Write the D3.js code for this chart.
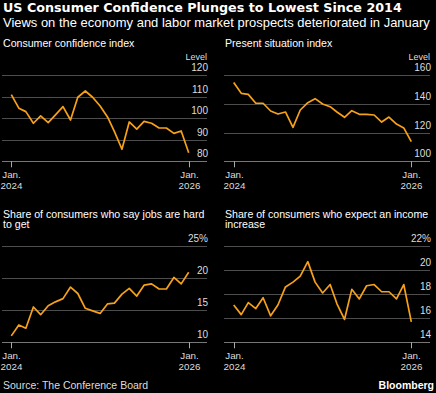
<!DOCTYPE html>
<html>
<head>
<meta charset="utf-8">
<script src="https://cdn.jsdelivr.net/npm/d3@7"></script>
<style>
  body { margin: 0; background: #000; }
  svg { display: block; background: #000; }
</style>
</head>
<body>
<div id="chart"></div>
<script>
var width = 436
var height = 393

// Monthly, Jan 2024 .. Jan 2026
var months = d3.range(25).map(function (i) { return new Date(2024, i, 1) })

var confidence = [111.0, 104.7, 103.1, 97.7, 101.1, 98.0, 101.6, 105.4, 99.2, 109.8, 112.7, 109.8,
  105.7, 100.5, 93.8, 85.6, 98.3, 95.0, 98.6, 97.7, 95.5, 95.5, 93.0, 94.1, 84.0]
var presentSituation = [154.9, 147.4, 146.7, 140.5, 140.5, 135.1, 133.0, 134.4, 123.7, 135.8, 140.9, 143.7,
  140.0, 138.1, 134.4, 130.7, 135.3, 132.8, 132.8, 132.3, 127.4, 130.9, 126.0, 123.3, 113.7]
var jobsHard = [11.0, 12.7, 12.2, 15.5, 14.3, 15.7, 16.3, 16.8, 18.6, 17.6, 15.3, 14.9,
  14.5, 16.0, 16.1, 17.5, 18.4, 17.2, 18.9, 19.1, 18.3, 18.3, 20.1, 19.1, 20.9]
var incomeUp = [17.1, 16.3, 17.3, 16.8, 17.7, 16.2, 17.1, 18.6, 19.0, 19.5, 20.7, 19.0,
  18.1, 18.8, 17.2, 15.9, 18.4, 17.6, 18.7, 18.8, 18.2, 18.2, 17.6, 18.8, 15.7]

var orange = "#f7a11a"
var font = "'Liberation Sans', Arial, sans-serif"

var svg = d3.select("#chart")
    .append("svg")
    .attr("width", width)
    .attr("height", height)

// shrink a text's font until it fits the wanted width
function fit(sel, family, weight, size, maxW) {
    sel.style("font", weight + " " + size + "px " + family)
    var w = sel.node().getComputedTextLength()
    if (w > maxW) sel.style("font", weight + " " + (size * maxW / w).toFixed(2) + "px " + family)
}

// Header
var title = svg.append("text")
    .attr("x", 3).attr("y", 12)
    .attr("fill", "#fff")
    .text("US Consumer Confidence Plunges to Lowest Since 2014")
fit(title, "'DejaVu Sans', sans-serif", "bold", 15, 399)

var sub = svg.append("text")
    .attr("x", 3).attr("y", 26.5)
    .attr("fill", "#fff")
    .text("Views on the economy and labor market prospects deteriorated in January")
fit(sub, font, "normal", 13, 427)

function drawPanel(o) {
    var g = svg.append("g")

    var x = d3.scaleTime()
        .domain([months[0], months[months.length - 1]])
        .range([o.x0, o.x1])
    var y = d3.scaleLinear()
        .domain(o.domain)
        .range([o.yb, o.yt])

    // title (one or two lines)
    o.title.forEach(function (t, i) {
        g.append("text")
            .attr("x", o.left + 1).attr("y", o.titleY + i * 10.5)
            .attr("fill", "#fff")
            .style("font", "10.6px " + font)
            .text(t)
    })

    // gridlines + labels
    var ticks = d3.range(o.domain[0], o.domain[1] + 0.001, o.step)
    ticks.forEach(function (t, i) {
        g.append("line")
            .attr("x1", o.left).attr("x2", o.right)
            .attr("y1", Math.round(y(t)) + 0.5).attr("y2", Math.round(y(t)) + 0.5)
            .attr("stroke", i == 0 ? "#777" : "#4d4d4d")
            .attr("stroke-width", 1)
        g.append("text")
            .attr("x", o.right + 1).attr("y", y(t) - 4)
            .attr("text-anchor", "end")
            .attr("fill", "#ddd")
            .style("font", "10px " + font)
            .text(t + (i == ticks.length - 1 ? o.topSuffix : ""))
    })
    if (o.unit) {
        g.append("text")
            .attr("x", o.right).attr("y", y(o.domain[1]) - 15.5)
            .attr("text-anchor", "end")
            .attr("fill", "#ddd")
            .style("font", "9px " + font)
            .text(o.unit)
    }

    // x ticks
    ;[months[0], months[months.length - 1]].forEach(function (d) {
        var xx = Math.round(x(d)) + 0.5
        g.append("line")
            .attr("x1", xx).attr("x2", xx)
            .attr("y1", o.yb).attr("y2", o.yb + 6)
            .attr("stroke", "#aaa")
        g.append("text")
            .attr("x", xx).attr("y", o.yb + 17)
            .attr("text-anchor", "middle")
            .attr("fill", "#ddd")
            .style("font", "9.8px " + font)
            .text("Jan.")
        g.append("text")
            .attr("x", xx).attr("y", o.yb + 27.5)
            .attr("text-anchor", "middle")
            .attr("fill", "#ddd")
            .style("font", "9.8px " + font)
            .text(d.getFullYear())
    })

    var line = d3.line()
        .x(function (d, i) { return x(months[i]) })
        .y(function (d) { return y(d) })

    g.append("path")
        .datum(o.values)
        .attr("fill", "none")
        .attr("stroke", orange)
        .attr("stroke-width", 1.7)
        .attr("stroke-linejoin", "round")
        .attr("d", line)
}

drawPanel({ title: ["Consumer confidence index"], titleY: 47, values: confidence,
    domain: [80, 120], step: 10, unit: "Level", topSuffix: "",
    left: 2, right: 207, x0: 11.3, x1: 188.7, yb: 161.3, yt: 75.3 })

drawPanel({ title: ["Present situation index"], titleY: 47, values: presentSituation,
    domain: [100, 160], step: 20, unit: "Level", topSuffix: "",
    left: 224, right: 430, x0: 233.7, x1: 411.3, yb: 161.3, yt: 75.3 })

drawPanel({ title: ["Share of consumers who say jobs are hard", "to get"], titleY: 217.5, values: jobsHard,
    domain: [10, 25], step: 5, unit: null, topSuffix: "%",
    left: 2, right: 207, x0: 11.3, x1: 188.7, yb: 342.3, yt: 246 })

drawPanel({ title: ["Share of consumers who expect an income", "increase"], titleY: 217.5, values: incomeUp,
    domain: [14, 22], step: 2, unit: null, topSuffix: "%",
    left: 224, right: 430, x0: 233.7, x1: 411.3, yb: 342.3, yt: 246 })

// Footer
svg.append("text")
    .attr("x", 3).attr("y", 389)
    .attr("fill", "#ddd")
    .style("font", "10.5px " + font)
    .text("Source: The Conference Board")

svg.append("text")
    .attr("x", 434).attr("y", 389)
    .attr("text-anchor", "end")
    .attr("fill", "#fff")
    .style("font", "bold 10.5px " + font)
    .text("Bloomberg")
</script>
</body>
</html>
